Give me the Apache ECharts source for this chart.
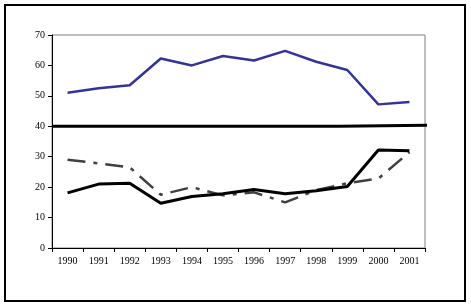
<!DOCTYPE html>
<html><head><meta charset="utf-8">
<script src="https://cdn.jsdelivr.net/npm/echarts@6/dist/echarts.min.js"></script>
<style>html,body{margin:0;padding:0;background:#fff}#c{width:471px;height:308px}</style>
</head><body><div id="c"></div>
<script>
var years = ['1990','1991','1992','1993','1994','1995','1996','1997','1998','1999','2000','2001'];
var blueSeries = [51, 52.5, 53.5, 62.3, 60, 63.1, 61.6, 64.8, 61.2, 58.5, 47.2, 48];
var blackSeries = [18.1, 21, 21.3, 14.7, 16.9, 17.8, 19.2, 17.8, 18.8, 20.2, 32.2, 32];
var dashSeries = [29, 27.8, 26.5, 17.5, 20, 17.3, 18.3, 15, 19, 21.3, 22.8, 31.5];
var refLineX = [0, 9.23, 9.23, 12.08];
var refLineY = [40, 40, 40.35, 40.35];
var yTicks = [0, 10, 20, 30, 40, 50, 60, 70];

var chart = echarts.init(document.getElementById('c'), null, {renderer: 'canvas'});
var font = {fontFamily: 'Liberation Serif', fontSize: 10, color: '#000'};
chart.setOption({
  animation: false,
  backgroundColor: '#fff',
  graphic: [{type: 'rect', shape: {x: 5, y: 5, width: 460, height: 296}, style: {fill: 'none', stroke: '#000', lineWidth: 2}, z: 100}],
  grid: {left: 52, right: 46, top: 35, bottom: 60, show: true, borderColor: '#808080', borderWidth: 1, backgroundColor: '#fff'},
  xAxis: [{
    type: 'category', data: years, boundaryGap: true,
    axisLine: {lineStyle: {color: '#000', width: 1}},
    axisTick: {show: true, length: 4, alignWithLabel: false, lineStyle: {color: '#000'}},
    axisLabel: Object.assign({margin: 8, interval: 0}, font),
    splitLine: {show: false}
  }, {
    type: 'value', min: 0, max: 12, show: false, position: 'bottom'
  }],
  yAxis: {
    type: 'value', min: yTicks[0], max: yTicks[yTicks.length - 1], interval: 10,
    axisLine: {show: true, lineStyle: {color: '#000', width: 1}},
    axisTick: {show: true, length: 4, lineStyle: {color: '#000'}},
    axisLabel: Object.assign({margin: 7}, font),
    splitLine: {show: false}
  },
  series: [
    {type: 'line', data: blueSeries, symbol: 'none', lineStyle: {color: '#333399', width: 2.5}, z: 3},
    {type: 'line', data: dashSeries, symbol: 'none', lineStyle: {color: '#404040', width: 2.5, type: [18, 8, 4, 8]}, z: 2},
    {type: 'line', data: blackSeries, symbol: 'none', lineStyle: {color: '#000', width: 3}, z: 4},
    {type: 'line', xAxisIndex: 1, clip: false, data: refLineX.map(function (x, i) { return [x, refLineY[i]]; }), symbol: 'none', lineStyle: {color: '#000', width: 3}, z: 5}
  ]
});
</script></body></html>
